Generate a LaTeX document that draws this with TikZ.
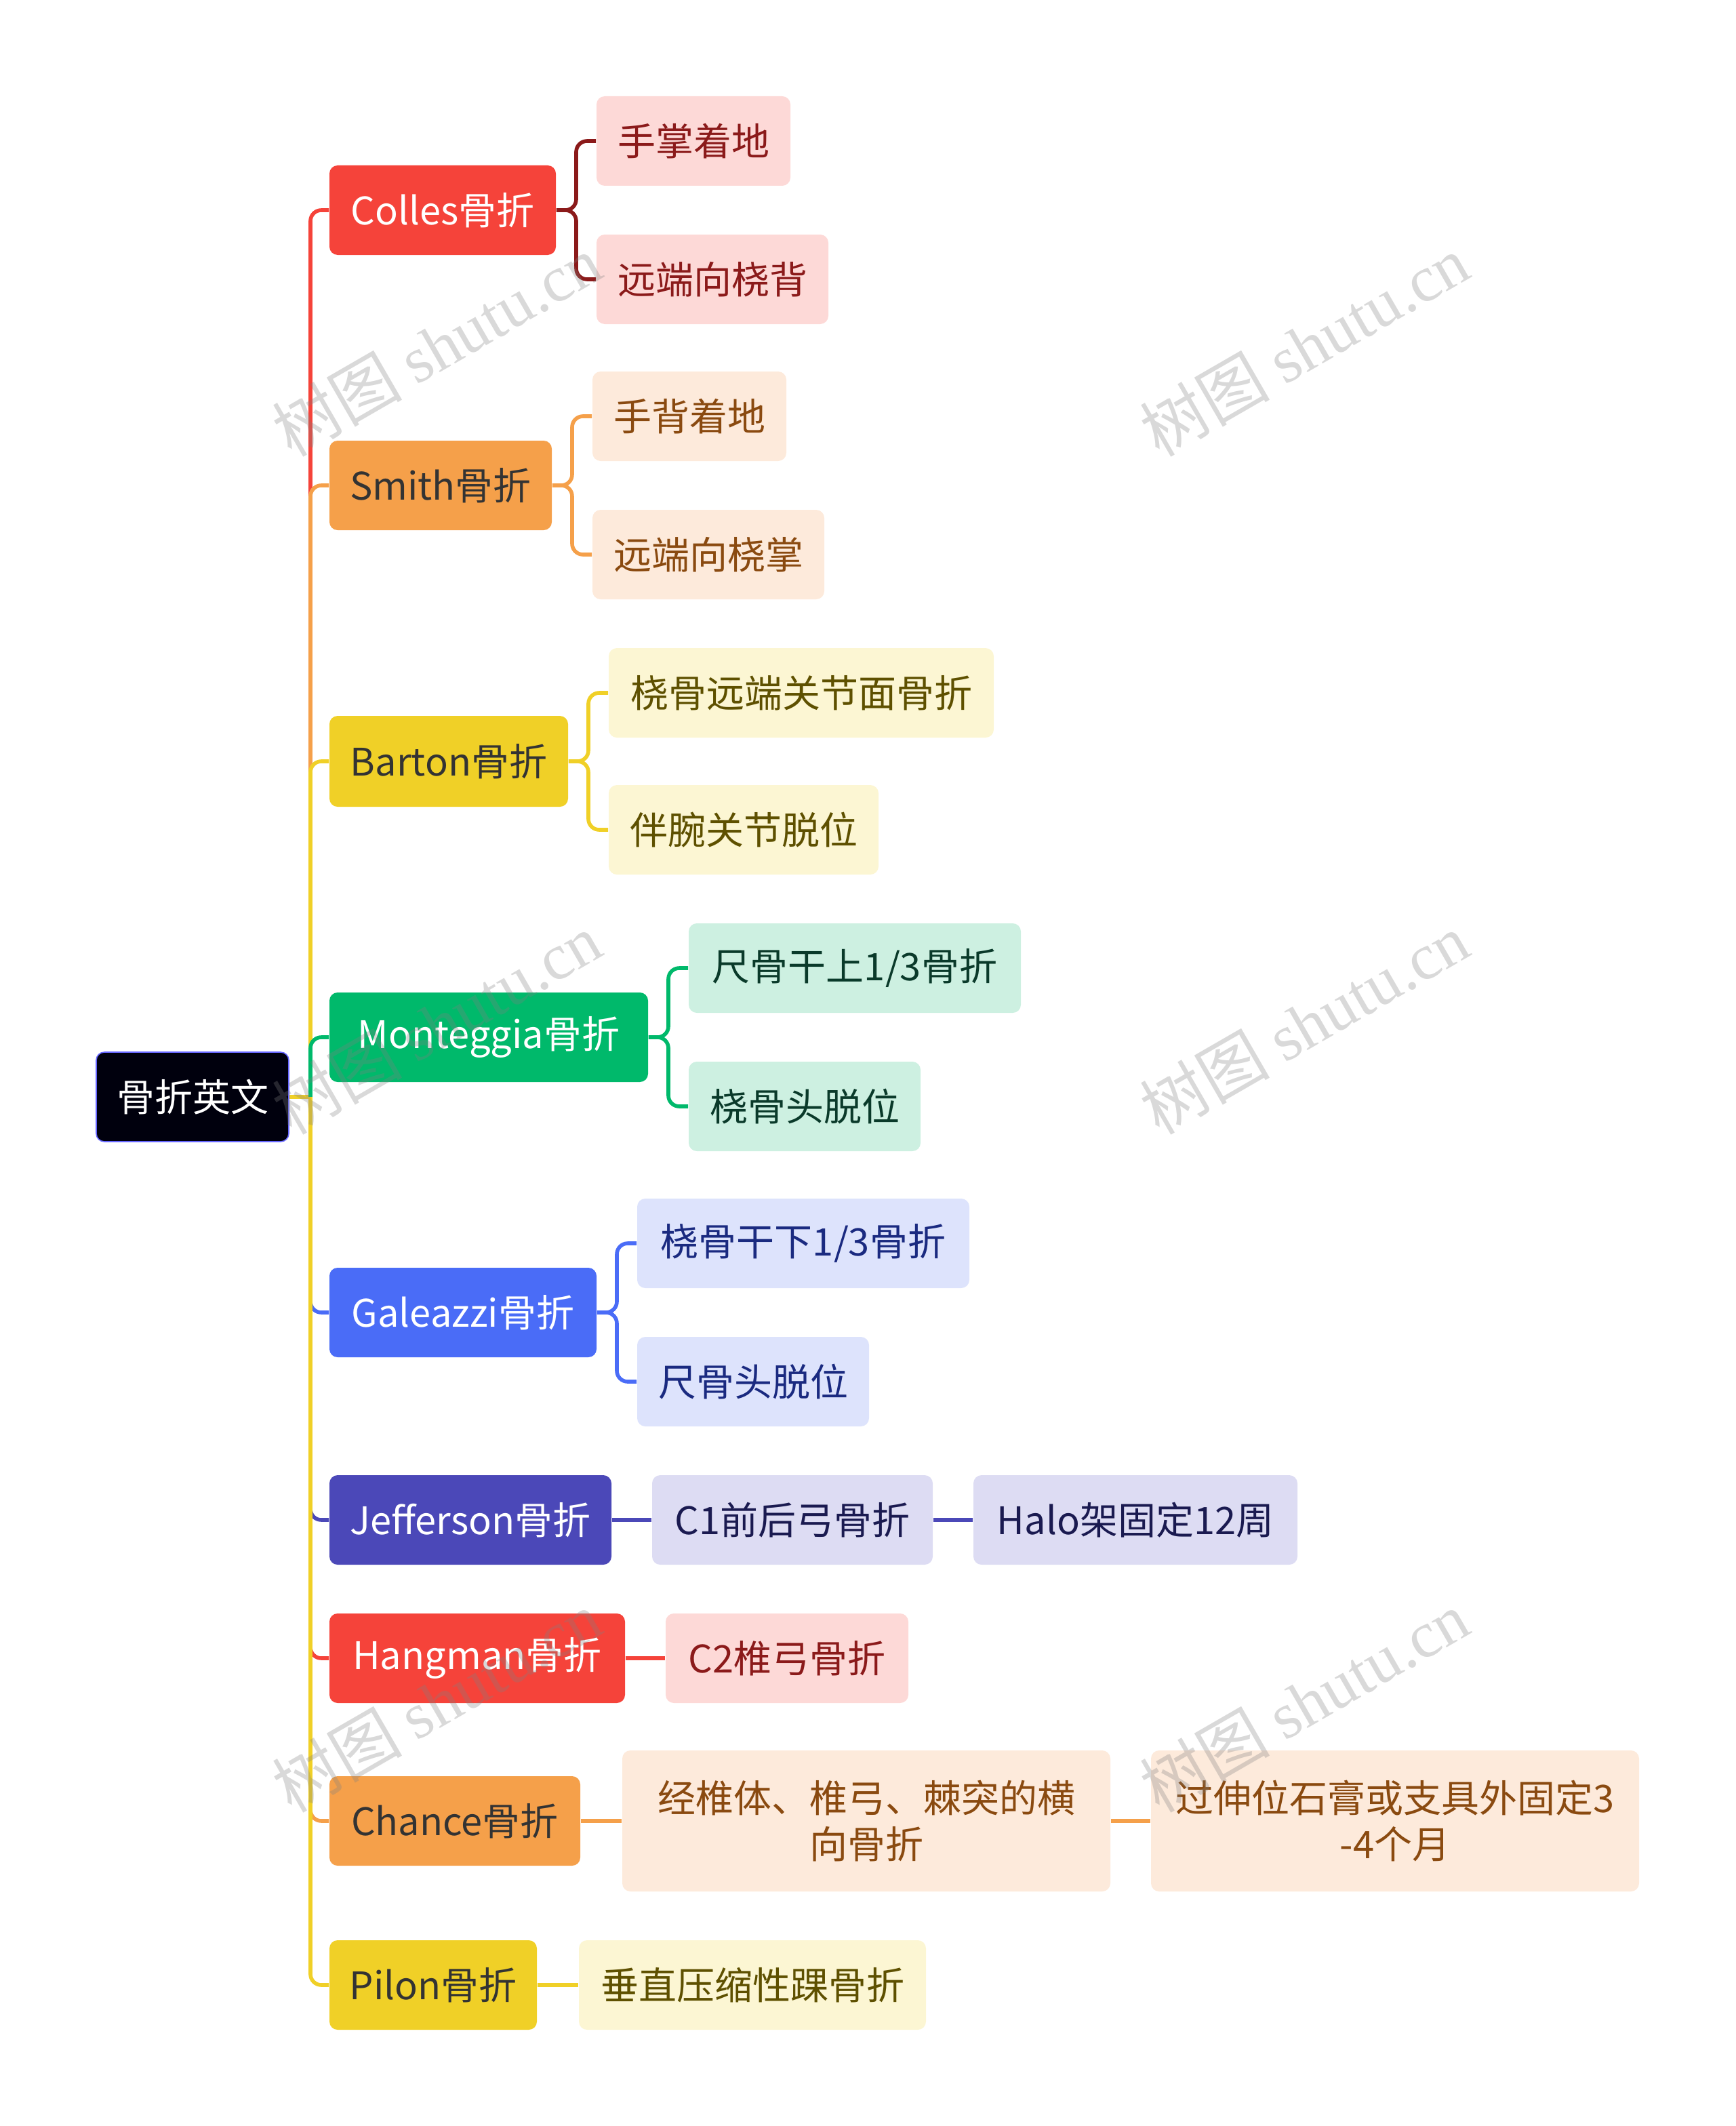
\documentclass[tikz,border=0pt]{standalone}
\usepackage{fontspec}
\setmainfont{Noto Sans CJK SC}
\newfontfamily\wmserif{Liberation Serif}
\begin{document}
\begin{tikzpicture}[x=0.5pt,y=-0.5pt,
  bx/.style={rounded corners=3pt,inner sep=0pt,align=center,font=\fontsize{14}{17}\selectfont},
  ln/.style={line width=1.4pt,rounded corners=4pt},
  wm/.style={rotate=30,text=gray,text opacity=0.3,font=\fontsize{24}{28}\selectfont}]
\useasboundingbox (0,0) rectangle (1280,1568);
\definecolor{cR}{HTML}{F5433A}\definecolor{cO}{HTML}{F5A04A}\definecolor{cY}{HTML}{F0D027}
\definecolor{cG}{HTML}{00B96B}\definecolor{cB}{HTML}{4A6CF7}\definecolor{cI}{HTML}{4B48B8}
\definecolor{fR}{HTML}{FDD9D7}\definecolor{fO}{HTML}{FDEADB}\definecolor{fY}{HTML}{FCF6D3}
\definecolor{fG}{HTML}{CDF0E1}\definecolor{fB}{HTML}{DDE3FC}\definecolor{fI}{HTML}{DDDCF3}
\definecolor{tR}{HTML}{8B1A1A}\definecolor{tO}{HTML}{8A4A10}\definecolor{tY}{HTML}{5E5000}
\definecolor{tG}{HTML}{0A3A2A}\definecolor{tB}{HTML}{1A2A80}\definecolor{tI}{HTML}{1A1A50}
\newcommand\bxn[7]{\node[bx,#6,minimum width={(#4-#2)*0.5pt},minimum height={(#5-#3)*0.5pt}] (#1) at ({(#2+#4)/2},{(#3+#5)/2}) {#7};}
% root
\bxn{root}{71}{776}{213}{842}{fill=black!95!blue,draw=blue!60,text=white}{骨折英文}
% branches
\bxn{colles}{243}{122}{410}{188}{fill=cR,text=white}{Colles骨折}
\bxn{smith}{243}{325}{407}{391}{fill=cO,text=black!80}{Smith骨折}
\bxn{barton}{243}{528}{419}{595}{fill=cY,text=black!80}{Barton骨折}
\bxn{mont}{243}{732}{478}{798}{fill=cG,text=white}{Monteggia骨折}
\bxn{gal}{243}{935}{440}{1001}{fill=cB,text=white}{Galeazzi骨折}
\bxn{jef}{243}{1088}{451}{1154}{fill=cI,text=white}{Jefferson骨折}
\bxn{hang}{243}{1190}{461}{1256}{fill=cR,text=white}{Hangman骨折}
\bxn{chance}{243}{1310}{428}{1376}{fill=cO,text=black!80}{Chance骨折}
\bxn{pilon}{243}{1431}{396}{1497}{fill=cY,text=black!80}{Pilon骨折}
% leaves
\bxn{c1}{440}{71}{583}{137}{fill=fR,text=tR}{手掌着地}
\bxn{c2}{440}{173}{611}{239}{fill=fR,text=tR}{远端向桡背}
\bxn{s1}{437}{274}{580}{340}{fill=fO,text=tO}{手背着地}
\bxn{s2}{437}{376}{608}{442}{fill=fO,text=tO}{远端向桡掌}
\bxn{b1}{449}{478}{733}{544}{fill=fY,text=tY}{桡骨远端关节面骨折}
\bxn{b2}{449}{579}{648}{645}{fill=fY,text=tY}{伴腕关节脱位}
\bxn{m1}{508}{681}{753}{747}{fill=fG,text=tG}{尺骨干上1/3骨折}
\bxn{m2}{508}{783}{679}{849}{fill=fG,text=tG}{桡骨头脱位}
\bxn{g1}{470}{884}{715}{950}{fill=fB,text=tB}{桡骨干下1/3骨折}
\bxn{g2}{470}{986}{641}{1052}{fill=fB,text=tB}{尺骨头脱位}
\bxn{j1}{481}{1088}{688}{1154}{fill=fI,text=tI}{C1前后弓骨折}
\bxn{j2}{718}{1088}{957}{1154}{fill=fI,text=tI}{Halo架固定12周}
\bxn{h1}{491}{1190}{670}{1256}{fill=fR,text=tR}{C2椎弓骨折}
\bxn{ch1}{459}{1291}{819}{1395}{fill=fO,text=tO}{经椎体、椎弓、棘突的横\\向骨折}
\bxn{ch2}{849}{1291}{1209}{1395}{fill=fO,text=tO}{过伸位石膏或支具外固定3\\-4个月}
\bxn{p1}{427}{1431}{683}{1497}{fill=fY,text=tY}{垂直压缩性踝骨折}
% trunk
\coordinate (t) at (229,809);
\draw[ln,cY] (root.east) -- (t);
\foreach \n/\c in {colles/cR,smith/cO,barton/cY,mont/cG,pilon/cY,chance/cO,hang/cR,jef/cI,gal/cB}
  \draw[ln,\c] (t) |- (\n.west);
\draw[ln,cY] (t) -- (229,1440);
% leaf connectors
\foreach \p/\a/\b/\c/\dx in {colles/c1/c2/tR/425,smith/s1/s2/cO/422,barton/b1/b2/cY/434,mont/m1/m2/cG/493,gal/g1/g2/cB/455}{
  \draw[ln,\c] (\p.east) -- (\dx,0 |- \p.east) |- (\a.west);
  \draw[ln,\c] (\p.east) -- (\dx,0 |- \p.east) |- (\b.west);}
\draw[ln,cI] (jef) -- (j1); \draw[ln,cI] (j1) -- (j2);
\draw[ln,cR] (hang) -- (h1);
\draw[ln,cO] (chance) -- (ch1); \draw[ln,cO] (ch1) -- (ch2);
\draw[ln,cY] (pilon) -- (p1);
% watermarks
\foreach \x/\y in {322/255,962/255,322/755,962/755,322/1255,962/1255}
  \node[wm] at (\x,\y) {树图 {\wmserif shutu.cn}};
\end{tikzpicture}
\end{document}
